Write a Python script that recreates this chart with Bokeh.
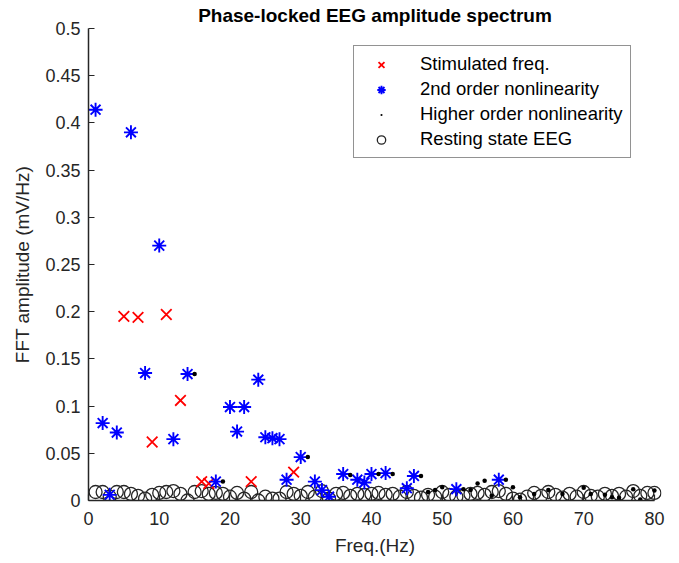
from bokeh.plotting import figure
from bokeh.models import Range1d, FixedTicker, Legend, LegendItem, NumeralTickFormatter
from bokeh.embed import file_html
from bokeh.resources import INLINE

# ---------------- data ----------------
stim_freq = [5, 7, 9, 11, 13, 16, 17, 23, 29]
stim_amp = [0.195, 0.194, 0.062, 0.197, 0.106, 0.020, 0.018, 0.020, 0.030]

second_freq = [1, 2, 3, 4, 6, 8, 10, 12, 14, 18, 20, 21, 22, 24, 25, 26, 27, 28,
               30, 32, 33, 34, 36, 38, 39, 40, 42, 45, 46, 52, 58]
second_amp = [0.414, 0.082, 0.006, 0.072, 0.390, 0.135, 0.270, 0.065, 0.134, 0.020,
              0.099, 0.073, 0.099, 0.128, 0.067, 0.066, 0.065, 0.022, 0.046, 0.020,
              0.011, 0.004, 0.028, 0.022, 0.019, 0.028, 0.029, 0.013, 0.026, 0.012,
              0.022]

higher_freq = [15, 19, 31, 37, 41, 43, 47, 48, 49, 50, 53, 54, 55, 56, 57, 59, 60,
               61, 63, 65, 67, 70, 71, 73, 74, 75, 77, 78, 80]
higher_amp = [0.134, 0.020, 0.046, 0.027, 0.028, 0.028, 0.026, 0.009, 0.011, 0.014,
              0.012, 0.011, 0.018, 0.021, 0.005, 0.022, 0.014, 0.0035, 0.007, 0.011,
              0.007, 0.0135, 0.007, 0.006, 0.0035, 0.003, 0.012, 0.001, 0.0106]

rest_freq = list(range(1, 81))
rest_amp = [0.009, 0.009, 0.004, 0.009, 0.009, 0.007, 0.005, 0.002, 0.006, 0.008,
            0.009, 0.010, 0.007, 0.000, 0.009, 0.010, 0.007, 0.008, 0.007, 0.004,
            0.008, 0.002, 0.009, 0.000, 0.004, 0.002, 0.002, 0.009, 0.007, 0.005,
            0.009, 0.004, 0.010, 0.002, 0.007, 0.008, 0.005, 0.007, 0.006, 0.007,
            0.008, 0.006, 0.007, 0.004, 0.009, 0.005, 0.003, 0.006, 0.004, 0.009,
            0.006, 0.004, 0.005, 0.007, 0.008, 0.006, 0.009, 0.010, 0.007, 0.002,
            0.001, 0.004, 0.008, 0.005, 0.009, 0.006, 0.003, 0.007, 0.004, 0.009,
            0.005, 0.004, 0.007, 0.005, 0.007, 0.004, 0.010, 0.005, 0.008, 0.008]

x_ticks = [0, 10, 20, 30, 40, 50, 60, 70, 80]
y_ticks = [0, 0.05, 0.1, 0.15, 0.2, 0.25, 0.3, 0.35, 0.4, 0.45, 0.5]
y_tick_labels = ["0", "0.05", "0.1", "0.15", "0.2", "0.25", "0.3", "0.35", "0.4", "0.45", "0.5"]

title_text = "Phase-locked EEG amplitude spectrum"
x_label = "Freq.(Hz)"
y_label = "FFT amplitude (mV/Hz)"
legend_labels = ["Stimulated freq.", "2nd order nonlinearity",
                 "Higher order nonlinearity", "Resting state EEG"]

# ---------------- figure ----------------
FONT = "Liberation Sans"
TXT = "#262626"

p = figure(width=679, height=562,
           x_range=Range1d(0, 81), y_range=Range1d(0, 0.5),
           output_backend="svg", toolbar_location=None,
           min_border_left=88, min_border_right=18,
           min_border_top=28, min_border_bottom=62)
p.grid.visible = False
p.outline_line_color = None
p.background_fill_color = "white"
p.border_fill_color = "white"

p.title.text = title_text
p.title.align = "center"
p.title.text_font = FONT
p.title.text_font_size = "19px"
p.title.text_font_style = "bold"
p.title.text_color = "black"
p.title.standoff = 5

# x axis
xa = p.xaxis[0]
xa.bounds = (0, 80)
xa.ticker = FixedTicker(ticks=x_ticks)
xa.major_label_standoff = 11
xa.major_label_text_font = FONT
xa.major_label_text_font_size = "18px"
xa.major_label_text_color = TXT
xa.axis_line_color = TXT
xa.axis_line_width = 1.5
xa.major_tick_in = 6
xa.major_tick_out = 0
xa.major_tick_line_color = TXT
xa.major_tick_line_width = 1.2
xa.minor_tick_line_color = None
xa.axis_label = x_label
xa.axis_label_text_font = FONT
xa.axis_label_text_font_size = "19px"
xa.axis_label_text_font_style = "normal"
xa.axis_label_text_color = TXT
xa.axis_label_standoff = 7

# y axis
ya = p.yaxis[0]
ya.bounds = (0, 0.5)
ya.ticker = FixedTicker(ticks=y_ticks)
ya.formatter = NumeralTickFormatter(format="0.[00]")
ya.major_label_overrides = dict(zip(y_ticks, y_tick_labels))
ya.major_label_standoff = 8
ya.major_label_text_font = FONT
ya.major_label_text_font_size = "18px"
ya.major_label_text_color = TXT
ya.axis_line_color = TXT
ya.axis_line_width = 1.5
ya.major_tick_in = 6
ya.major_tick_out = 0
ya.major_tick_line_color = TXT
ya.major_tick_line_width = 1.2
ya.minor_tick_line_color = None
ya.axis_label = y_label
ya.axis_label_text_font = FONT
ya.axis_label_text_font_size = "19px"
ya.axis_label_text_font_style = "normal"
ya.axis_label_text_color = TXT
ya.axis_label_standoff = 9

# ---------------- series ----------------
r_rest = p.scatter(rest_freq, rest_amp, marker="circle", size=13,
                   line_color="#262626", fill_color=None, line_width=1.3)
r_stim = p.scatter(stim_freq, stim_amp, marker="x", size=15,
                   line_color="#ff0000", line_width=1.8)
r_second = p.scatter(second_freq, second_amp, marker="asterisk", size=14,
                     line_color="#0000ff", line_width=1.9)
r_high = p.scatter(higher_freq, higher_amp, marker="dot", size=18,
                   line_color="black", fill_color="black")

legend = Legend(items=[
    LegendItem(label=legend_labels[0], renderers=[r_stim]),
    LegendItem(label=legend_labels[1], renderers=[r_second]),
    LegendItem(label=legend_labels[2], renderers=[r_high]),
    LegendItem(label=legend_labels[3], renderers=[r_rest]),
], location=(265, 342))
legend.label_text_font = FONT
legend.label_text_font_size = "18.5px"
legend.label_text_color = "black"
legend.border_line_color = TXT
legend.border_line_width = 1
legend.padding = 7
legend.spacing = 3
legend.label_height = 21
legend.glyph_height = 21
legend.glyph_width = 40
legend.label_standoff = 19
legend.margin = 0
legend.background_fill_color = "white"
legend.background_fill_alpha = 1
p.add_layout(legend)

open("out.html", "w").write(file_html(p, INLINE))
